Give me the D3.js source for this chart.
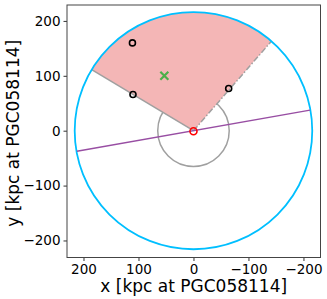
<!DOCTYPE html>
<html>
<head>
<meta charset="utf-8">
<script src="https://cdn.jsdelivr.net/npm/d3@7"></script>
<style>
  body { margin: 0; background: white; }
  text { font-family: "DejaVu Sans", sans-serif; }
</style>
</head>
<body>
<div id="chart"></div>
<script>
// data (kpc, frame centred on PGC058114)
const xTicks = [200, 100, 0, -100, -200];
const yTicks = [200, 100, 0, -100, -200];
const outerRadius = 216;
const innerRadius = 65;
const sectorAngles = [31, 131]; // degrees
const satX = [111, 110, -64];
const satY = [160, 66, 77];
const centroidX = [53];
const centroidY = [100];
const hostX = [0];
const hostY = [-1];
const majorAxisX = [212, -212];
const majorAxisY = [-37.5, 37.5];

const width = 327, height = 299;
const margin = { top: 5, right: 6.5, bottom: 41.5, left: 67 };

const svg = d3.select("#chart").append("svg")
    .attr("width", width)
    .attr("height", height);

const x = d3.scaleLinear().domain([230, -231]).range([margin.left, width - margin.right]);
const y = d3.scaleLinear().domain([229, -231]).range([margin.top, height - margin.bottom]);

const plot = svg.append("g");

svg.append("clipPath").attr("id", "clip")
    .append("rect")
    .attr("x", margin.left).attr("y", margin.top)
    .attr("width", x.range()[1] - x.range()[0])
    .attr("height", y.range()[1] - y.range()[0]);
plot.attr("clip-path", "url(#clip)");

const rad = d => d * Math.PI / 180;

// inner grey circle
plot.append("ellipse")
    .attr("cx", x(0)).attr("cy", y(0))
    .attr("rx", Math.abs(x(innerRadius) - x(0)))
    .attr("ry", Math.abs(y(innerRadius) - y(0)))
    .attr("fill", "none")
    .attr("stroke", "#a0a0a0")
    .attr("stroke-width", 1.5);

// sector
const angles = d3.range(sectorAngles[0], sectorAngles[1] + 0.5, 1);
const sectorPts = [[0, 0]].concat(angles.map(a => [outerRadius * Math.cos(rad(a)), outerRadius * Math.sin(rad(a))]));
plot.append("path")
    .attr("d", d3.line().x(d => x(d[0])).y(d => y(d[1]))(sectorPts) + "Z")
    .attr("fill", "#f4b6b6")
    .attr("stroke", "none");

// sector edges
sectorAngles.forEach((a, i) => {
    plot.append("line")
        .attr("x1", x(0)).attr("y1", y(0))
        .attr("x2", x(outerRadius * Math.cos(rad(a))))
        .attr("y2", y(outerRadius * Math.sin(rad(a))))
        .attr("stroke", "#a0a0a0")
        .attr("stroke-width", 1.5)
        .attr("stroke-dasharray", i === 1 ? "6,2,1.5,2" : null);
});

// outer circle
plot.append("ellipse")
    .attr("cx", x(0)).attr("cy", y(0))
    .attr("rx", Math.abs(x(outerRadius) - x(0)))
    .attr("ry", Math.abs(y(outerRadius) - y(0)))
    .attr("fill", "none")
    .attr("stroke", "#00bfff")
    .attr("stroke-width", 1.8);

// major axis
plot.append("line")
    .attr("x1", x(majorAxisX[0])).attr("y1", y(majorAxisY[0]))
    .attr("x2", x(majorAxisX[1])).attr("y2", y(majorAxisY[1]))
    .attr("stroke", "#984ea3")
    .attr("stroke-width", 1.5);

// satellites
plot.selectAll(".sat")
    .data(satX.map((d, i) => ({ x: d, y: satY[i] })))
    .join("circle")
    .attr("class", "sat")
    .attr("cx", d => x(d.x)).attr("cy", d => y(d.y))
    .attr("r", 3)
    .attr("fill", "none")
    .attr("stroke", "black")
    .attr("stroke-width", 1.6);

// centroid
centroidX.forEach((cx, i) => {
    const px = x(cx), py = y(centroidY[i]), s = 4;
    plot.append("path")
        .attr("d", `M${px - s},${py - s}L${px + s},${py + s}M${px - s},${py + s}L${px + s},${py - s}`)
        .attr("stroke", "#4daf4a")
        .attr("stroke-width", 2.2);
});

// host
plot.selectAll(".host")
    .data(hostX.map((d, i) => ({ x: d, y: hostY[i] })))
    .join("circle")
    .attr("class", "host")
    .attr("cx", d => x(d.x)).attr("cy", d => y(d.y))
    .attr("r", 3.5)
    .attr("fill", "none")
    .attr("stroke", "red")
    .attr("stroke-width", 1.6);

// axes
const xAxis = svg.append("g")
    .attr("transform", `translate(0,${height - margin.bottom})`)
    .call(d3.axisBottom(x).tickValues(xTicks).tickSizeOuter(0).tickSize(3.5).tickPadding(3).tickFormat(d => d3.format("")(d).replace("-", "\u2212")));
const yAxis = svg.append("g")
    .attr("transform", `translate(${margin.left},0)`)
    .call(d3.axisLeft(y).tickValues(yTicks).tickSizeOuter(0).tickSize(3.5).tickPadding(3).tickFormat(d => d3.format("")(d).replace("-", "\u2212")));

[xAxis, yAxis].forEach(g => {
    g.select(".domain").remove();
    g.selectAll(".tick line").attr("stroke", "#333");
    g.selectAll(".tick text")
        .attr("fill", "black")
        .style("font-family", "DejaVu Sans, sans-serif")
        .style("font-size", "13.5px");
});

// frame
svg.append("rect")
    .attr("x", margin.left).attr("y", margin.top)
    .attr("width", x.range()[1] - x.range()[0])
    .attr("height", y.range()[1] - y.range()[0])
    .attr("fill", "none")
    .attr("stroke", "#444")
    .attr("stroke-width", 1);

// labels
svg.append("text")
    .attr("x", (x.range()[0] + x.range()[1]) / 2)
    .attr("y", 292)
    .attr("text-anchor", "middle")
    .style("font-size", "17px")
    .text("x [kpc at PGC058114]");

svg.append("text")
    .attr("transform", `translate(19,${(y.range()[0] + y.range()[1]) / 2 + 2}) rotate(-90)`)
    .attr("text-anchor", "middle")
    .style("font-size", "17px")
    .text("y [kpc at PGC058114]");
</script>
</body>
</html>
